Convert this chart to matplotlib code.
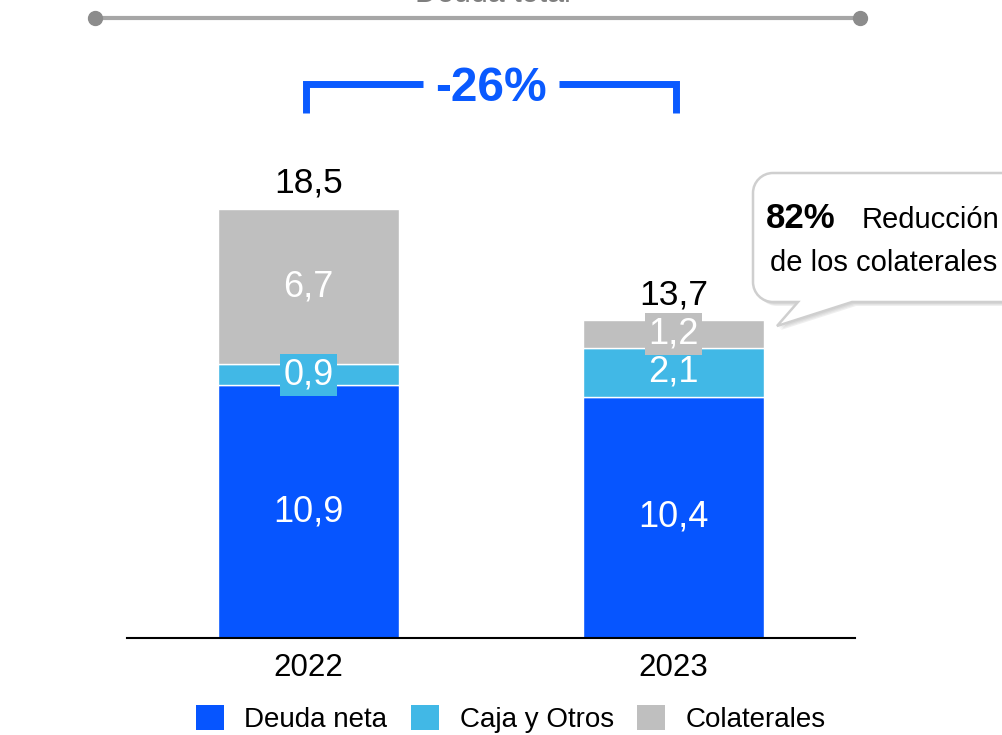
import matplotlib.pyplot as plt
from matplotlib.path import Path
from matplotlib.patches import PathPatch, Patch

plt.rcParams['font.family'] = ['Liberation Sans', 'DejaVu Sans']

# Data (miles de millones)
years = ['2022', '2023']
deuda_neta = [10.9, 10.4]
caja_otros = [0.9, 2.1]
colaterales = [6.7, 1.2]
totales = [18.5, 13.7]
variacion = '-26%'

series = [
    ('Deuda neta', deuda_neta, '#0655FF'),
    ('Caja y Otros', caja_otros, '#41B8E6'),
    ('Colaterales', colaterales, '#BFBFBF'),
]

W, H = 1002, 735
fig = plt.figure(figsize=(W / 100, H / 100), dpi=100)

ax = fig.add_axes([127 / W, 97 / H, 728 / W, 638 / H])
ax.set_xlim(-0.497, 1.497)
ax.set_ylim(0, 638 / 23.2)

x = list(range(len(years)))
bar_w = 0.496
bottom = [0.0] * len(years)
for name, vals, color in series:
    ax.bar(x, vals, bar_w, bottom=bottom, color=color,
           edgecolor='white', linewidth=1, zorder=2)
    for i, v in enumerate(vals):
        ax.text(x[i], bottom[i] + v / 2, f'{v:.1f}'.replace('.', ','),
                ha='center', va='center', color='white', fontsize=26,
                zorder=3,
                bbox=dict(boxstyle='square,pad=0.1', fc=color, ec='none'))
    bottom = [b + v for b, v in zip(bottom, vals)]

# totals above each bar
for i, t in enumerate(totales):
    ax.annotate(f'{t:.1f}'.replace('.', ','), (x[i], t), xytext=(0, 11.5),
                textcoords='offset points', ha='center', va='baseline',
                fontsize=25.5, color='black')

# bracket with the change between years
blue = '#0A5AFF'
by, drop = 23.9, 1.25
mid = (x[0] + x[1]) / 2
gap = 0.185
xl, xr = x[0] - 0.007, x[1] + 0.007
ax.plot([xl, xl, mid - gap], [by - drop, by, by], color=blue, lw=5,
        solid_joinstyle='miter', solid_capstyle='butt', clip_on=False)
ax.plot([mid + gap, xr, xr], [by, by, by - drop], color=blue, lw=5,
        solid_joinstyle='miter', solid_capstyle='butt', clip_on=False)
ax.text(mid, by, variacion, ha='center', va='center_baseline', fontsize=34.5,
        fontweight='bold', color=blue)

for s in ['top', 'right', 'left']:
    ax.spines[s].set_visible(False)
ax.spines['bottom'].set_linewidth(1.5)
ax.set_yticks([])
ax.set_xticks(x, years)
ax.tick_params(axis='x', length=0, pad=11, labelsize=22.5)

# overlay in pixel coordinates for the decorations
ov = fig.add_axes([0, 0, 1, 1], zorder=5)
ov.set_xlim(0, W)
ov.set_ylim(H, 0)
ov.axis('off')
ov.patch.set_alpha(0)

# header rule with end dots
ov.plot([95, 860], [18, 18], color='#A6A6A6', lw=3, solid_capstyle='butt')
ov.plot([95, 860], [18, 18], 'o', color='#8C8C8C', ms=10)
fig.text(493 / W, 1 - 2 / H, 'Deuda total', ha='center', va='baseline',
         fontsize=22, color='#7F7F7F')


def bubble_path(x0, y0, x1, y1, r, tail):
    (ta, tip, tb) = tail
    k = 0.5523 * r
    verts = [
        (x0 + r, y0),
        (x1 - r, y0),
        (x1 - r + k, y0), (x1, y0 + r - k), (x1, y0 + r),
        (x1, y1 - r),
        (x1, y1 - r + k), (x1 - r + k, y1), (x1 - r, y1),
        (tb, y1),
        tip,
        (ta, y1),
        (x0 + r, y1),
        (x0 + r - k, y1), (x0, y1 - r + k), (x0, y1 - r),
        (x0, y0 + r),
        (x0, y0 + r - k), (x0 + r - k, y0), (x0 + r, y0),
        (x0 + r, y0),
    ]
    codes = [Path.MOVETO, Path.LINETO,
             Path.CURVE4, Path.CURVE4, Path.CURVE4,
             Path.LINETO,
             Path.CURVE4, Path.CURVE4, Path.CURVE4,
             Path.LINETO, Path.LINETO, Path.LINETO, Path.LINETO,
             Path.CURVE4, Path.CURVE4, Path.CURVE4,
             Path.LINETO,
             Path.CURVE4, Path.CURVE4, Path.CURVE4,
             Path.CLOSEPOLY]
    return Path(verts, codes)


tail = (798, (777, 326), 852)
for k, a in enumerate([0.10, 0.10, 0.12]):
    d = 2 + k
    sh = bubble_path(753 + d, 173 + d, 1030 + d, 302 + d, 20,
                     (tail[0] + d, (tail[1][0] + d, tail[1][1] + d), tail[2] + d))
    ov.add_patch(PathPatch(sh, fc='#808080', ec='none', alpha=a))
ov.add_patch(PathPatch(bubble_path(753, 173, 1030, 302, 20, tail),
                       fc='white', ec='#CFCFCF', lw=1.8))
ov.text(766, 228, '82%', fontsize=25, fontweight='bold', va='baseline')
ov.text(862, 228, 'Reducción', fontsize=21, va='baseline')
ov.text(770, 271, 'de los colaterales', fontsize=21, va='baseline')

handles = [Patch(fc=c, ec='none') for _, _, c in series]
fig.legend(handles, [n for n, _, _ in series], loc='center',
           bbox_to_anchor=(511 / W, 1 - 719 / H), ncol=3, frameon=False,
           fontsize=20, handlelength=1.0, handleheight=1.0,
           handletextpad=0.75, columnspacing=0.85, borderaxespad=0)

fig.savefig('out.png', dpi=100)
